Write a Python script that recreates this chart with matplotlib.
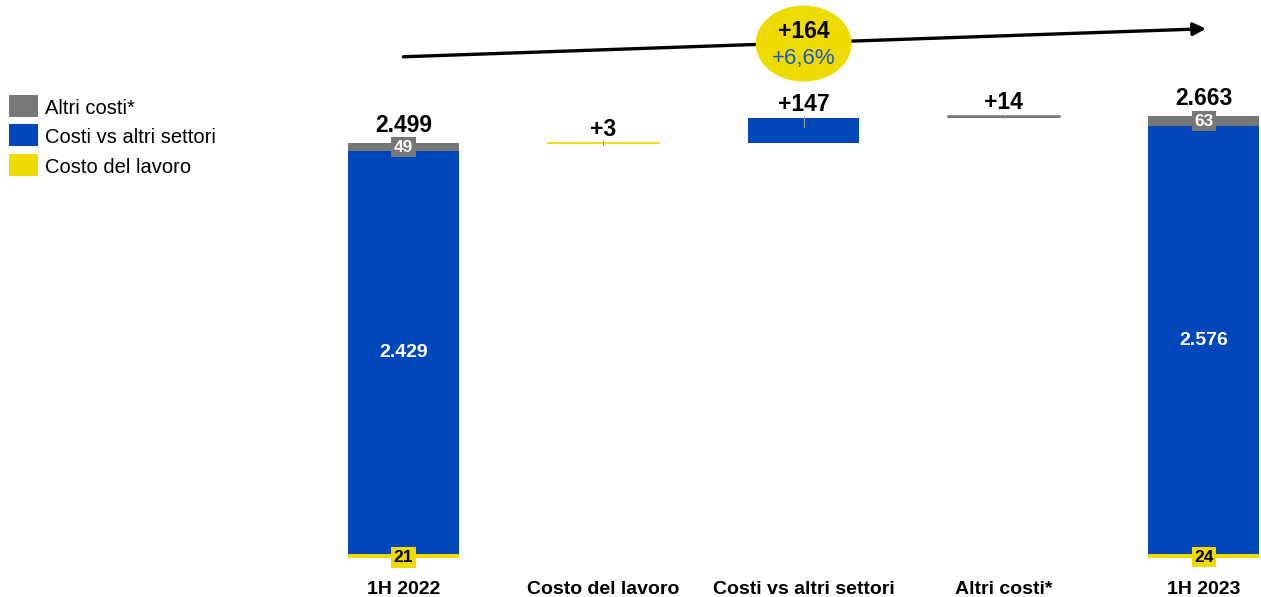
import matplotlib
matplotlib.use("Agg")
import matplotlib.pyplot as plt
from matplotlib.patches import Ellipse, Rectangle
import numpy as np

plt.rcParams['font.family'] = ['Liberation Sans', 'DejaVu Sans']

# ---- data ----
categories = ["1H 2022", "Costo del lavoro", "Costi vs altri settori", "Altri costi*", "1H 2023"]
series_names = ["Costo del lavoro", "Costi vs altri settori", "Altri costi*"]
start_values = [21, 2429, 49]   # 1H 2022
end_values = [24, 2576, 63]     # 1H 2023
deltas = [3, 147, 14]
start_total = 2499
end_total = 2663
total_delta = 164
total_pct = "+6,6%"
start_labels = ["21", "2.429", "49"]
end_labels = ["24", "2.576", "63"]
total_labels = ["2.499", "2.663"]
delta_labels = ["+3", "+147", "+14"]

YELLOW = "#EEDC00"
BLUE = "#0047BB"
GREY = "#777777"
colors = [YELLOW, BLUE, GREY]

fig = plt.figure(figsize=(12.61, 5.97), dpi=100)
ax = fig.add_axes([0, 0, 1, 1])
ax.set_xlim(-2.015, 4.285)
ax.set_ylim(-235, 3361)
ax.axis("off")

x = np.arange(len(categories))
w = 0.555

# stacked totals
def stacked(xpos, vals, labels, total_label):
    bottom = 0
    for i, v in enumerate(vals):
        ax.bar(xpos, v, width=w, bottom=bottom, color=colors[i], linewidth=0)
        bottom += v
    tot = sum(vals)
    ax.text(xpos, vals[0] / 2 - 8, labels[0], ha="center", va="center", fontsize=12.5,
            fontweight="bold", color="black",
            bbox=dict(boxstyle="square,pad=0.15", fc=YELLOW, ec="none"))
    ax.text(xpos, vals[0] + vals[1] / 2, labels[1], ha="center", va="center", fontsize=14,
            fontweight="bold", color="white")
    ax.text(xpos, vals[0] + vals[1] + vals[2] / 2, labels[2], ha="center", va="center",
            fontsize=12.5, fontweight="bold", color="white",
            bbox=dict(boxstyle="square,pad=0.15", fc=GREY, ec="none"))
    ax.text(xpos, tot + 36, total_label, ha="center", va="bottom", fontsize=16.5,
            fontweight="bold", color="black")

stacked(x[0], start_values, start_labels, total_labels[0])
stacked(x[4], end_values, end_labels, total_labels[1])

# floating deltas
level = start_total
for i, d in enumerate(deltas):
    xi = x[i + 1]
    ax.bar(xi, d, width=w, bottom=level, color=colors[i], linewidth=0)
    top = level + d
    if d < 50:
        ax.plot([xi - w / 2, xi + w / 2], [top, top], color=colors[i], lw=1.3 if d < 10 else 1.8)
        ax.plot([xi, xi], [top + 8, top - 14], color="#999999", lw=0.8)
    else:
        ax.plot([xi, xi], [top + 15, top - 55], color="#9a9a9a", lw=0.8)
    ax.text(xi, top + 12, delta_labels[i], ha="center",
            va="bottom", fontsize=16.5, fontweight="bold", color="black")
    level += d

# category labels
for xi, c in zip(x, categories):
    ax.text(xi, -192, c, ha="center", va="center", fontsize=14, fontweight="bold", color="black")

# trend arrow
y0 = start_total + 520
y1 = end_total + 525
ax.annotate("", xy=(4.01, y1), xytext=(0, y0),
            arrowprops=dict(arrowstyle="-|>,head_length=0.75,head_width=0.38", color="black",
                            lw=2.4, shrinkA=0, shrinkB=0))
ym = (y0 + y1) / 2
ax.add_patch(Ellipse((2.0, ym - 5), 96 / 200.5, 76 / 0.1661, fc=YELLOW, ec="none", zorder=5))
ax.text(2.0, ym + 70, f"+{total_delta}", ha="center", va="center", fontsize=16.5,
        fontweight="bold", color="black", zorder=6)
ax.text(2.0, ym - 92, total_pct, ha="center", va="center", fontsize=16,
        color="#1F5BBF", zorder=6)

# legend (figure pixel coords)
leg_items = list(zip(series_names, colors))[::-1]
for k, (name, col) in enumerate(leg_items):
    top = 95 + k * 29.5
    fig.add_artist(Rectangle((9 / 1261, 1 - (top + 22) / 597), 29 / 1261, 22 / 597,
                             transform=fig.transFigure, fc=col, ec="none"))
    fig.text(45 / 1261, 1 - (top + 13) / 597, name, ha="left", va="center", fontsize=14.5,
             color="black")

fig.savefig("out.png", dpi=100)
